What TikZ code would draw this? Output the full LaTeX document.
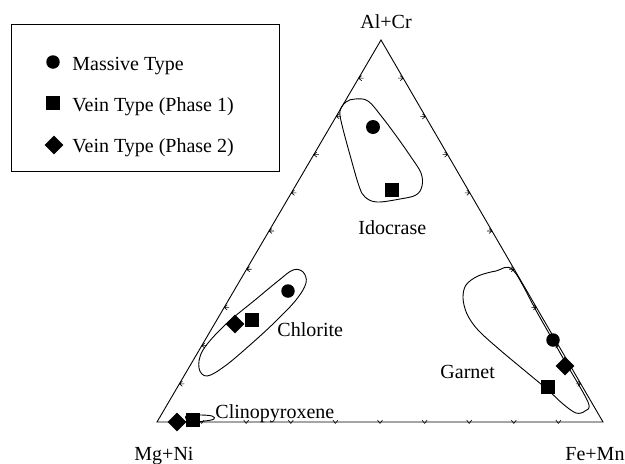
\documentclass[tikz,border=0pt]{standalone}
\usepackage{fontspec}
\setmainfont{Liberation Serif}
\usetikzlibrary{shapes.geometric,calc}
\begin{document}
\begin{tikzpicture}[x=1pt,y=-1pt, line width=0.9pt,
  lbl/.style={anchor=base west, inner sep=0pt, font=\fontsize{20}{24}\selectfont},
  dot/.style={circle, fill=black, minimum size=13.5pt, inner sep=0pt},
  sq/.style={rectangle, fill=black, minimum size=14pt, inner sep=0pt},
  dia/.style={diamond, fill=black, minimum size=19pt, inner sep=0pt},
  field/.style={line width=0.9pt},
  tck/.style={line width=0.6pt}]
\useasboundingbox (0,0) rectangle (625,464);
% legend
\node[draw, line width=0.8pt, minimum width=268pt, minimum height=147pt, anchor=north west, inner sep=0pt] (legend) at (11,24) {};
\node[dot] (lg1) at (53,62) {};
\node[sq] (lg2) at (53,103) {};
\node[dia] (lg3) at (54,145) {};
\node[lbl] (lt1) at (72,70) {Massive Type};
\node[lbl] (lt2) at (72,111) {Vein Type (Phase 1)};
\node[lbl] (lt3) at (72,152) {Vein Type (Phase 2)};
% triangle
\coordinate (A) at (381,40);
\coordinate (B) at (157,422);
\coordinate (C) at (603,422);
\draw (A) -- (B) -- (C) -- cycle;
\foreach \i in {1,...,9}{
  \coordinate (L\i) at ($(A)!\i/10!(B)$);
  \coordinate (R\i) at ($(A)!\i/10!(C)$);
  \coordinate (D\i) at ($(B)!\i/10!(C)$);
  \draw[tck] (L\i) -- ++(5,0) (L\i) -- ++(3,-2.5) (L\i) -- ++(3,2.5);
  \draw[tck] (R\i) -- ++(-5,0) (R\i) -- ++(-3,-2.5) (R\i) -- ++(-3,2.5);
  \draw[tck] ($(D\i)+(0,1.5)$) -- ++(-2.5,-3.5) ($(D\i)+(0,1.5)$) -- ++(2.5,-3.5);
}
% vertex labels
\node[lbl] (tA) at (360,28) {Al+Cr};
\node[lbl] (tB) at (134,460) {Mg+Ni};
\node[lbl] (tC) at (565,460) {Fe+Mn};
% fields
\draw[field] plot[smooth cycle, tension=0.6] coordinates {(355,99) (368,101) (382,117) (397,137) (411,157) (421,173) (422,186) (416,195) (400,199) (377,202) (365,197) (359,186) (350,155) (342,125) (340,111) (346,102)};
\draw[field] plot[smooth cycle, tension=0.6] coordinates {(293,270) (303,272) (306,283) (296,300) (275,322) (250,345) (225,366) (207,376) (199,368) (203,350) (225,325) (255,300) (278,281)};
\draw[field] plot[smooth cycle, tension=0.55] coordinates {(513,270) (538,314) (563,358) (588,402) (585,411) (576,413) (563,404) (548,390) (530,375) (500,350) (478,330) (467,314) (463,298) (466,285) (478,276) (496,271)};
\draw[field] plot[smooth cycle, tension=0.6] coordinates {(186,416) (200,415) (212,416) (214,419) (205,421) (190,422)};
% field labels
\node[lbl] (fI) at (358,234) {Idocrase};
\node[lbl] (fCh) at (277,336) {Chlorite};
\node[lbl] (fG) at (440,378) {Garnet};
\node[lbl] (fCp) at (215,418) {Clinopyroxene};
% data points
\node[dot, minimum width=12pt, minimum height=14pt] (i1) at (373,127) {};
\node[sq] (i2) at (392,190) {};
\node[dot] (c1) at (288,291) {};
\node[sq] (c2) at (252,320) {};
\node[dia] (c3) at (235,324) {};
\node[dot] (g1) at (553,340) {};
\node[dia] (g3) at (565,366) {};
\node[sq] (g2) at (548,387) {};
\node[dia] (p3) at (177,422) {};
\node[sq] (p2) at (193,420) {};
\end{tikzpicture}
\end{document}
